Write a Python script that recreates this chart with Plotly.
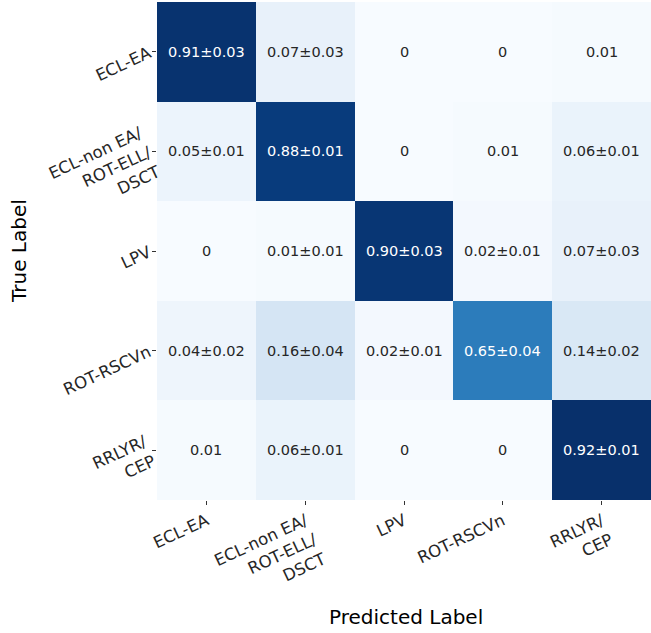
import plotly.graph_objects as go
import plotly.colors as pc

categories = ["ECL-EA", "ECL-non EA/<br>ROT-ELL/<br>DSCT", "LPV", "ROT-RSCVn", "RRLYR/<br>CEP"]
means = [
    [0.91, 0.07, 0.00, 0.00, 0.01],
    [0.05, 0.88, 0.00, 0.01, 0.06],
    [0.00, 0.01, 0.90, 0.02, 0.07],
    [0.04, 0.16, 0.02, 0.65, 0.14],
    [0.01, 0.06, 0.00, 0.00, 0.92],
]
stds = [
    [0.03, 0.03, 0.00, 0.00, 0.00],
    [0.01, 0.01, 0.00, 0.00, 0.01],
    [0.00, 0.01, 0.03, 0.01, 0.03],
    [0.02, 0.04, 0.01, 0.04, 0.02],
    [0.00, 0.01, 0.00, 0.00, 0.01],
]

def fmt(m, s):
    if s == 0:
        return "0" if m == 0 else f"{m:.2f}"
    return f"{m:.2f}\u00b1{s:.2f}"

zmax = max(max(r) for r in means)

fig = go.Figure(go.Heatmap(
    z=means, x=categories, y=categories,
    colorscale=pc.sequential.Blues, zmin=0, zmax=zmax,
    showscale=False, xgap=0, ygap=0, hoverinfo="skip",
))

annotations = []
for i, row in enumerate(means):
    for j, m in enumerate(row):
        annotations.append(dict(
            x=categories[j], y=categories[i], text=fmt(m, stds[i][j]),
            showarrow=False,
            font=dict(family="DejaVu Sans", size=14.5,
                      color="white" if m / zmax > 0.5 else "#262626"),
        ))

# axis titles placed precisely as paper annotations
annotations.append(dict(
    text="True Label", xref="paper", yref="paper",
    x=(19 - 157) / 494, y=0.5, xanchor="center", yanchor="middle",
    textangle=-90, showarrow=False,
    font=dict(family="DejaVu Sans", size=20, color="black"),
))
annotations.append(dict(
    text="Predicted Label", xref="paper", yref="paper",
    x=(406 - 157) / 494, y=-(617 - 500) / 498, xanchor="center", yanchor="middle",
    showarrow=False,
    font=dict(family="DejaVu Sans", size=20, color="black"),
))

fig.update_layout(
    width=651, height=633,
    margin=dict(l=157, r=0, t=2, b=133, autoexpand=False),
    plot_bgcolor="white", paper_bgcolor="white",
    font=dict(family="DejaVu Sans", color="#262626"),
    annotations=annotations,
    xaxis=dict(
        tickangle=-25, ticks="outside", ticklen=4, tickcolor="#333", automargin=False,
        tickfont=dict(size=16.5, color="#262626"), showgrid=False, zeroline=False,
    ),
    yaxis=dict(
        autorange="reversed", tickangle=-25, ticks="outside", ticklen=4, tickcolor="#333",
        automargin=False,
        tickfont=dict(size=16.5, color="#262626"), showgrid=False, zeroline=False,
    ),
)

fig.write_html("out.html", config={"displayModeBar": False},
               post_script="document.body.style.margin='0';document.body.style.overflow='hidden';")
